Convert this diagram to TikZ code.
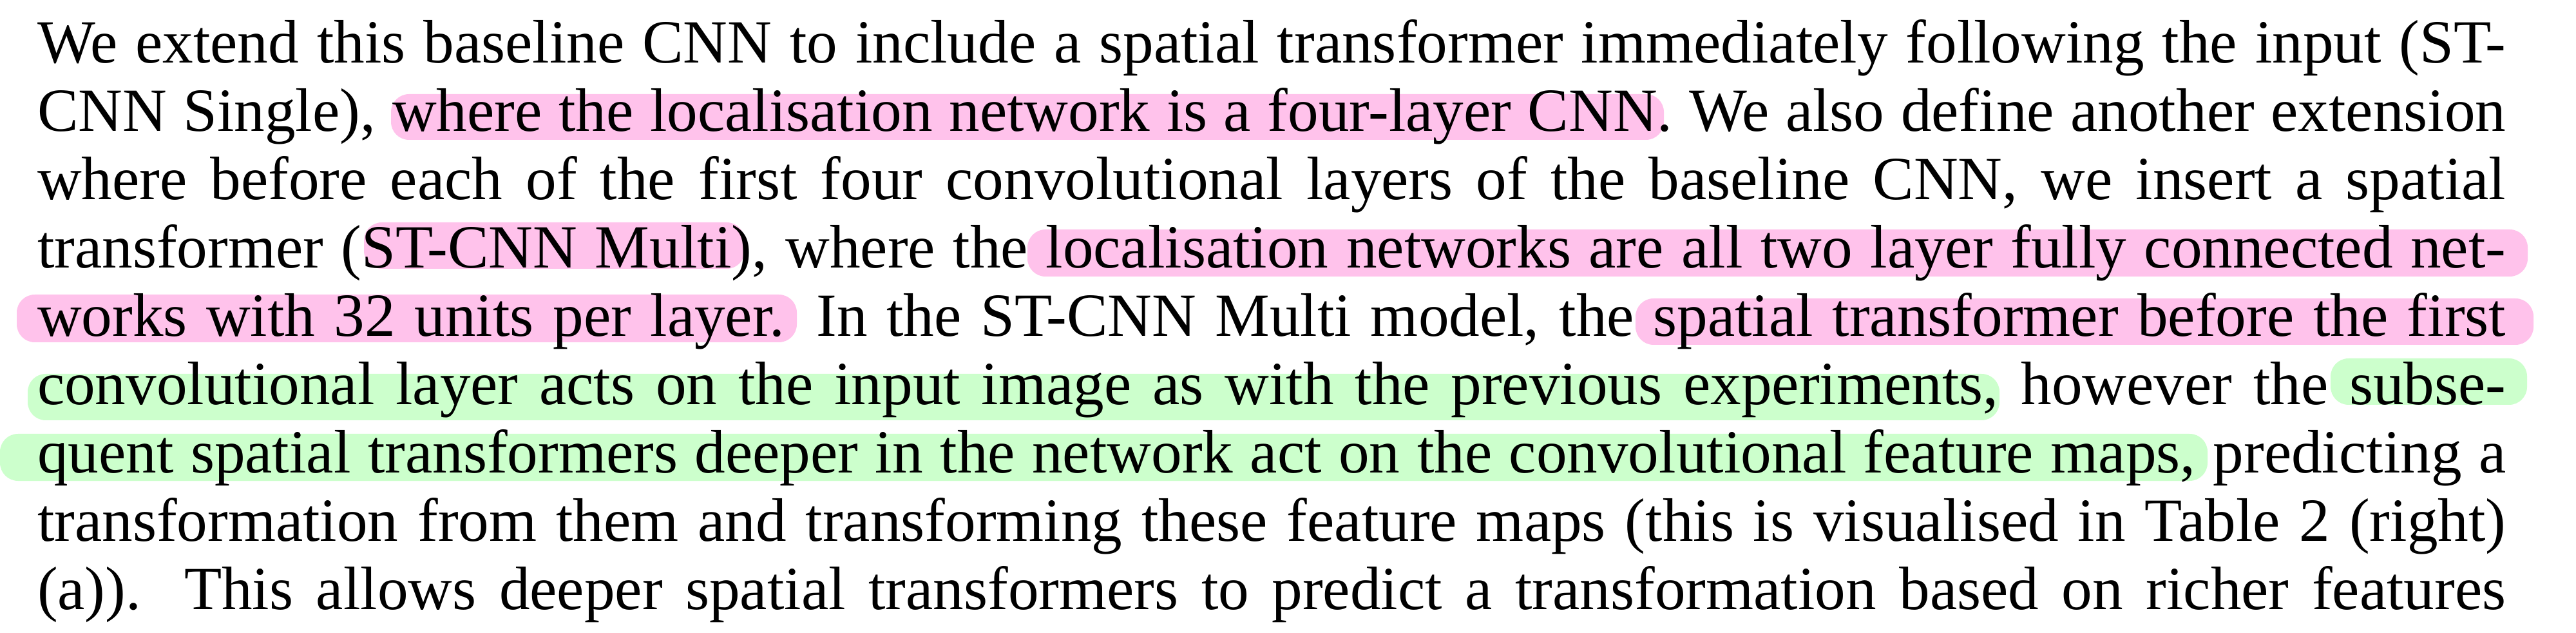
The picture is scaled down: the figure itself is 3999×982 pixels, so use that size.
\documentclass[tikz,border=0pt]{standalone}
\usepackage{fontspec}
\setmainfont{Liberation Serif}
\definecolor{hlpink}{RGB}{255,194,235}
\definecolor{hlgreen}{RGB}{204,255,204}
\begin{document}
\begin{tikzpicture}[x=0.25pt,y=-0.25pt,
  hl/.style={rounded corners=7pt},
  pinkhl/.style={hl,fill=hlpink},
  greenhl/.style={hl,fill=hlgreen},
  textline/.style={anchor=base west,inner sep=0pt,outer sep=0pt,
    font=\fontsize{23.8pt}{26.5pt}\selectfont}]
\fill[white] (0,0) rectangle (3999,982);
\useasboundingbox (0,0) rectangle (3999,982);
% highlights
\fill[pinkhl] (607,146) rectangle (2583,217);
\fill[pinkhl] (565,345) rectangle (1156,417);
\fill[pinkhl] (1595,356) rectangle (3924,429);
\fill[pinkhl] (26,457) rectangle (1237,531);
\fill[pinkhl] (2539,463) rectangle (3933,535);
\fill[greenhl] (43,580) rectangle (3104,652);
\fill[greenhl] (3618,556) rectangle (3923,628);
\fill[greenhl] (0,673) rectangle (3427,746);
% text lines
\node[textline] (l1) at (58,97.5) {\hbox to 958pt{We extend this baseline CNN to include a spatial transformer immediately following the input (ST-}};
\node[textline] (l2) at (58,203.5) {\hbox to 958pt{CNN Single), where the localisation network is a four-layer CNN. We also define another extension}};
\node[textline] (l3) at (58,309.5) {\hbox to 958pt{where before each of the first four convolutional layers of the baseline CNN, we insert a spatial}};
\node[textline] (l4) at (58,415.5) {\hbox to 958pt{transformer (ST-CNN Multi), where the localisation networks are all two layer fully connected net-}};
\node[textline] (l5) at (58,521.5) {\hbox to 958pt{works with 32 units per layer. In the ST-CNN Multi model, the spatial transformer before the first}};
\node[textline] (l6) at (58,627.5) {\hbox to 958pt{convolutional layer acts on the input image as with the previous experiments, however the subse-}};
\node[textline] (l7) at (58,733.5) {\hbox to 958pt{quent spatial transformers deeper in the network act on the convolutional feature maps, predicting a}};
\node[textline] (l8) at (58,839.5) {\hbox to 958pt{transformation from them and transforming these feature maps (this is visualised in Table 2 (right)}};
\node[textline] (l9) at (58,945.5) {\hbox to 958pt{(a)). This allows deeper spatial transformers to predict a transformation based on richer features}};
\end{tikzpicture}
\end{document}
